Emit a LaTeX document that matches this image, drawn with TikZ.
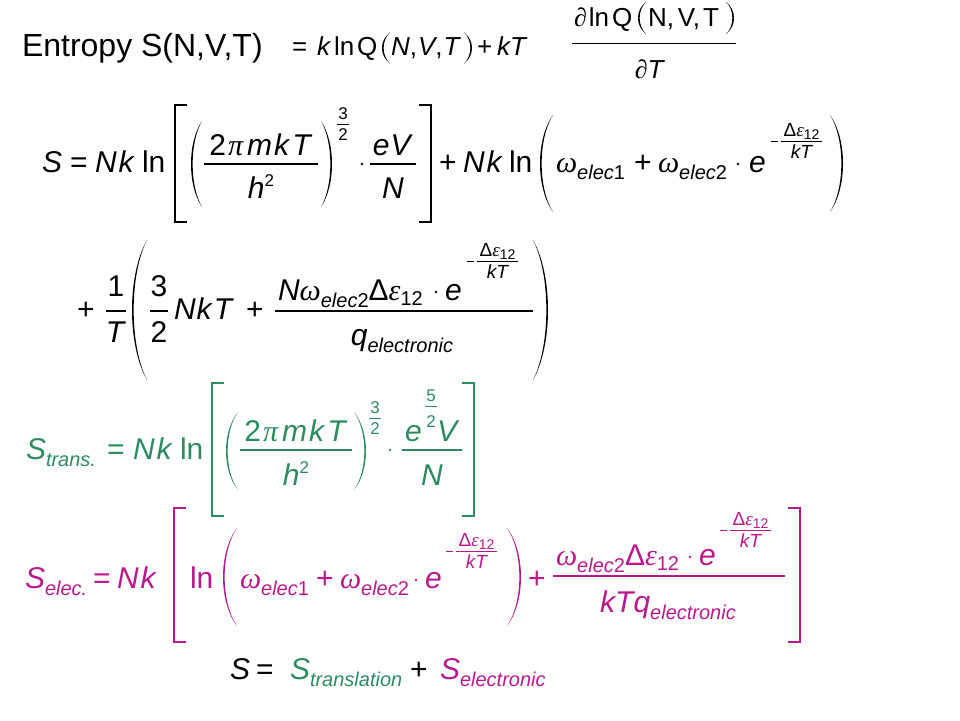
\documentclass[tikz,border=0pt]{standalone}
\usepackage{fontspec}
\setmainfont{Liberation Sans}
\newfontfamily\gr{Liberation Serif}
\definecolor{grn}{RGB}{45,140,95}
\definecolor{mag}{RGB}{185,25,140}
\newcommand\fsA{\fontsize{30}{34}\selectfont}
\newcommand\fsB{\fontsize{20}{22}\selectfont}
\newcommand\fsC{\fontsize{17}{19}\selectfont}
\newcommand\fsX{\fontsize{19}{21}\selectfont}
\newcommand\fsD{\fontsize{14}{16}\selectfont}
\newcommand\fsE{\fontsize{26}{30}\selectfont}
\newcommand\fsT{\fontsize{32}{36}\selectfont}
\newcommand\I[1]{\textit{#1}}
\newcommand\g[1]{{\gr\itshape #1}}
\newcommand\sub[1]{\raisebox{-7pt}{\fsB\itshape #1}}
\newcommand\sq{\raisebox{12pt}{\fsC 2}}
\newcommand\tpmkt{2\hspace{2pt}\g{π}\hspace{4pt}\I{m}\hspace{2pt}\I{k}\hspace{2pt}\I{T}}
\tikzset{
 tl/.style={anchor=base west,inner sep=0pt,outer sep=0pt,font=\fsA},
 ct/.style={anchor=base,inner sep=0pt,outer sep=0pt,font=\fsA},
 fbar/.style={line width=1.2pt},
 sbar/.style={line width=0.9pt},
 brk/.style={line width=1.3pt},
 pics/lp/.style 2 args={code={\fill (#2,-#1) .. controls ({-#2/3},{-#1/2}) and ({-#2/3},{#1/2}) .. (#2,#1) .. controls ({-#2/3+2.2},{#1/2}) and ({-#2/3+2.2},{-#1/2}) .. (#2,-#1) -- cycle;}},
 pics/rp/.style 2 args={code={\fill (-#2,-#1) .. controls ({#2/3},{-#1/2}) and ({#2/3},{#1/2}) .. (-#2,#1) .. controls ({#2/3-2.2},{#1/2}) and ({#2/3-2.2},{-#1/2}) .. (-#2,-#1) -- cycle;}},
 pics/lb/.style 2 args={code={\draw[brk] (#2,-#1) -- (0,-#1) -- (0,#1) -- (#2,#1);}},
 pics/rb/.style 2 args={code={\draw[brk] (-#2,-#1) -- (0,-#1) -- (0,#1) -- (-#2,#1);}},
 pics/expo/.style={code={
   \draw[sbar] (0,0) -- (7,0);
   \draw[sbar] (10,0) -- (51,0);
   \node[ct,font=\fsX] (-n) at (30.5,-5) {Δ\g{ε}\raisebox{-3pt}{\fsD 12}};
   \node[ct,font={\fsX\itshape}] (-d) at (30.5,17) {kT};
 }},
}
\begin{document}
\begin{tikzpicture}[x=1pt,y=-1pt]
\path[use as bounding box] (0,0) rectangle (960,720);
% ---------- line 1
\node[tl,font=\fsT] (title) at (22,56) {Entropy S(N,V,T)};
\node[tl,font=\fsE] (e1eq) at (292,55) {=};
\node[tl,font=\fsE] (e1k) at (317,55) {\I{k}};
\node[tl,font=\fsE] (e1ln) at (334,55) {ln\hspace{3pt}Q};
\pic (e1p1) at (382,48) {lp={15.5}{8}};
\node[tl,font=\fsE] (e1nvt) at (391,55) {\I{N},\hspace{1pt}\I{V},\hspace{1pt}\I{T}};
\pic (e1p2) at (472,48) {rp={15.5}{8}};
\node[tl,font=\fsE] (e1pl) at (477,55) {+};
\node[tl,font=\fsE] (e1kt) at (497,55) {\I{kT}};
\node[tl,font=\fsE] (e1num) at (574,27) {\g{∂}\hspace{2pt}ln\hspace{3pt}Q};
\pic (e1p3) at (638,18) {lp={16}{8}};
\node[tl,font=\fsE] (e1nvt2) at (648,27) {N,\hspace{4pt}V,\hspace{3pt}T};
\pic (e1p4) at (734,18) {rp={16}{8}};
\draw[line width=1pt] (572,43) -- (736,43);
\node[ct,font=\fsE] (e1den) at (650,78) {\g{∂}\I{T}};
% ---------- line 2
\node[tl] (s2) at (42,172) {\I{S}};
\node[tl] (eq2) at (70,172) {=};
\node[tl] (nk2) at (95,172) {\I{N}\hspace{2pt}\I{k}};
\node[tl] (ln2) at (142,172) {ln};
\pic (b2l) at (175,163.5) {lb={58.5}{12}};
\pic (p2a) at (191,164) {lp={43}{11}};
\node[ct] (n2a) at (261,155) {\tpmkt};
\draw[fbar] (204,164) -- (318,164);
\node[ct] (d2a) at (261,198) {\I{h}\sq};
\pic (p2b) at (332,164) {rp={43}{11}};
\node[ct,font=\fsC] (x2a) at (343,119) {3};
\draw[sbar] (337,124) -- (349,124);
\node[ct,font=\fsC] (x2b) at (343,140) {2};
\fill (362,164) circle (1.4);
\node[ct] (n2b) at (393,155) {\I{e}\hspace{1pt}\I{V}};
\draw[fbar] (370,164) -- (416,164);
\node[ct] (d2b) at (393,198) {\I{N}};
\pic (b2r) at (431,163.5) {rb={58.5}{12}};
\node[tl] (pl2) at (439,172) {+};
\node[tl] (nk2b) at (463,172) {\I{N}\hspace{2pt}\I{k}};
\node[tl] (ln2b) at (509,172) {ln};
\pic (p2c) at (540,163.5) {lp={48.5}{13}};
\node[tl] (w2a) at (556,172) {\g{ω}\sub{elec\textup{1}}};
\node[tl] (pl2b) at (634,172) {+};
\node[tl] (w2b) at (658,172) {\g{ω}\sub{elec\textup{2}}};
\fill (738,164) circle (1.4);
\node[tl] (e2) at (749,172) {\I{e}};
\pic (x2) at (771,141) {expo};
\pic (p2d) at (843,163.5) {rp={48.5}{13}};
% ---------- line 3
\node[tl] (pl3) at (77,319) {+};
\node[ct] (n3a) at (116,296) {1};
\draw[fbar] (106,311) -- (126,311);
\node[ct] (d3a) at (116,342) {\I{T}};
\pic (p3a) at (132,310) {lp={70}{15}};
\node[ct] (n3b) at (159,296) {3};
\draw[fbar] (150,311) -- (168,311);
\node[ct] (d3b) at (159,342) {2};
\node[tl] (nkt3) at (174,319) {\I{N}\hspace{1pt}\I{k}\hspace{1pt}\I{T}};
\node[tl] (pl3b) at (246,319) {+};
\node[tl] (n3c) at (278,300) {\I{N}\g{ω}\sub{elec\textup{2}}Δ\g{ε}\raisebox{-5pt}{\fsB 12}};
\fill (436,292) circle (1.4);
\node[tl] (e3) at (445,300) {\I{e}};
\pic (x3) at (467,261) {expo};
\draw[fbar] (275,311) -- (533,311);
\node[ct] (d3c) at (402,345) {\I{q}\sub{electronic}};
\pic (p3b) at (548,310) {rp={70}{15}};
% ---------- line 4
\begin{scope}[color=grn]
\node[tl] (s4) at (26,459) {\I{S}\sub{trans.}};
\node[tl] (eq4) at (107,459) {=};
\node[tl] (nk4) at (133,459) {\I{N}\hspace{2pt}\I{k}};
\node[tl] (ln4) at (180,459) {ln};
\pic (b4l) at (212,449.5) {lb={66.5}{12}};
\pic (p4a) at (226,451) {lp={39}{12}};
\node[ct] (n4a) at (296,441) {\tpmkt};
\draw[fbar] (240,450) -- (352,450);
\node[ct] (d4a) at (296,485) {\I{h}\sq};
\pic (p4b) at (366,451) {rp={39}{12}};
\node[ct,font=\fsC] (x4a) at (375,413) {3};
\draw[sbar] (369,418) -- (381,418);
\node[ct,font=\fsC] (x4b) at (375,434) {2};
\fill (390,450) circle (1.4);
\node[tl] (e4) at (405,441) {\I{e}};
\node[ct,font=\fsC] (x4c) at (431,401) {5};
\draw[sbar] (425,406) -- (437,406);
\node[ct,font=\fsC] (x4d) at (431,427) {2};
\node[tl] (v4) at (437,441) {\I{V}};
\draw[fbar] (402,450) -- (462,450);
\node[ct] (d4b) at (432,485) {\I{N}};
\pic (b4r) at (474,449.5) {rb={66.5}{12}};
\end{scope}
% ---------- line 5
\begin{scope}[color=mag]
\node[tl] (s5) at (25,588) {\I{S}\sub{elec.}};
\node[tl] (eq5) at (93,588) {=};
\node[tl] (nk5) at (117,588) {\I{N}\hspace{2pt}\I{k}};
\pic (b5l) at (174,575) {lb={67}{12}};
\node[tl] (ln5) at (190,588) {ln};
\pic (p5a) at (223,577) {lp={49}{14}};
\node[tl] (w5a) at (240,588) {\g{ω}\sub{elec\textup{1}}};
\node[tl] (pl5) at (316,588) {+};
\node[tl] (w5b) at (340,588) {\g{ω}\sub{elec\textup{2}}};
\fill (416,580) circle (1.4);
\node[tl] (e5) at (425,588) {\I{e}};
\pic (x5a) at (446,551) {expo};
\pic (p5b) at (521,577) {rp={49}{14}};
\node[tl] (pl5b) at (528,588) {+};
\node[tl] (n5) at (556,565) {\g{ω}\sub{elec\textup{2}}Δ\g{ε}\raisebox{-5pt}{\fsB 12}};
\fill (690,557) circle (1.4);
\node[tl] (e5b) at (699,565) {\I{e}};
\pic (x5b) at (720,530) {expo};
\draw[fbar] (553,576) -- (785,576);
\node[ct] (d5) at (668,612) {\I{kTq}\sub{electronic}};
\pic (b5r) at (800,575) {rb={67}{12}};
\end{scope}
% ---------- line 6
\node[tl] (s6) at (230,679) {\I{S}};
\node[tl] (eq6) at (256,679) {=};
\node[tl,text=grn] (s6t) at (290,679) {\I{S}\sub{translation}};
\node[tl] (pl6) at (410,679) {+};
\node[tl,text=mag] (s6e) at (440,679) {\I{S}\sub{electronic}};
\end{tikzpicture}
\end{document}
